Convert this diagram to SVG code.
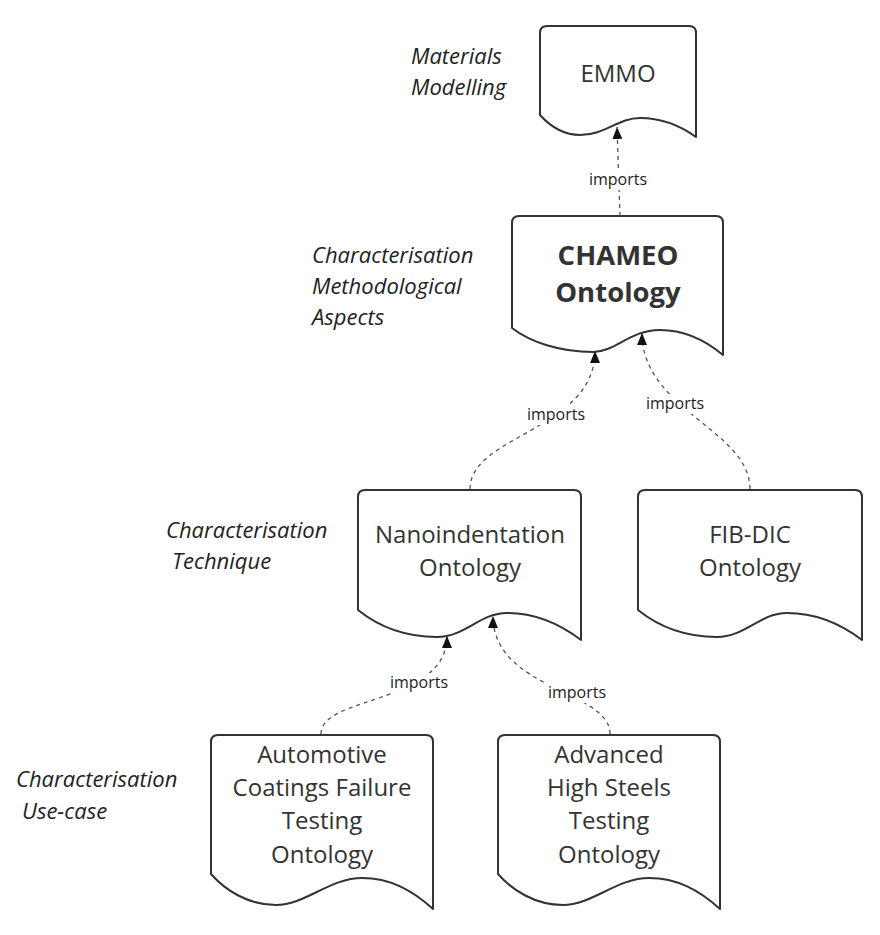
<svg xmlns="http://www.w3.org/2000/svg" width="880" height="935" viewBox="0 0 880 935">
<defs>
<style>
.shape{fill:#fff;stroke:#333;stroke-width:2;stroke-linejoin:round}
.t{font-family:"Open Sans","Noto Sans","Liberation Sans",sans-serif;font-size:24px;fill:#333;text-anchor:middle}
.b{font-weight:bold;font-size:27.5px}
.lab{font-family:"Open Sans","Noto Sans","Liberation Sans",sans-serif;font-size:22px;font-style:italic;fill:#222}
.imp{font-family:"Open Sans","Noto Sans","Liberation Sans",sans-serif;font-size:16px;fill:#222;text-anchor:middle}
.conn{fill:none;stroke:#555;stroke-width:1.3;stroke-dasharray:4 4}
.bg{fill:#fff}
</style>
<marker id="arr" viewBox="0 0 12 10" refX="12" refY="5" markerWidth="12" markerHeight="10" markerUnits="userSpaceOnUse" orient="auto">
<path d="M0,0 L12,5 L0,10 Z" fill="#111"/>
</marker>
</defs>
<rect width="880" height="935" fill="#fff"/>

<g id="labels">
<text class="lab" x="411" y="64">Materials</text>
<text class="lab" x="411" y="95">Modelling</text>
<text class="lab" x="312" y="263">Characterisation</text>
<text class="lab" x="312" y="294">Methodological</text>
<text class="lab" x="312" y="325">Aspects</text>
<text class="lab" x="166" y="538">Characterisation</text>
<text class="lab" x="172" y="569">Technique</text>
<text class="lab" x="16" y="787">Characterisation</text>
<text class="lab" x="22" y="819">Use-case</text>
</g>

<g id="node-emmo">
<path class="shape" d="M540,33 Q540,26 547,26 H689 Q696,26 696,33 V137 C678,124 660,118 640,118 C618,118 605,135 580,135 C562,135 550,126 540,115 Z"/>
<text class="t" x="618" y="82">EMMO</text>
</g>

<g id="node-chameo">
<path class="shape" d="M512,223 Q512,216 519,216 H716 Q723,216 723,223 V355 C705,340 685,330 660,330 C630,330 615,352 593,352 C560,352 530,342 512,328 Z"/>
<text class="t b" x="618" y="265">CHAMEO</text>
<text class="t b" x="618" y="302">Ontology</text>
</g>

<g id="node-nano">
<path class="shape" d="M358,497 Q358,490 365,490 H574 Q581,490 581,497 V640 C560,624 535,613 507,613 C480,613 465,637 437,637 C405,637 378,626 358,610 Z"/>
<text class="t" x="470" y="543">Nanoindentation</text>
<text class="t" x="470" y="576">Ontology</text>
</g>

<g id="node-fibdic">
<path class="shape" d="M638,497 Q638,490 645,490 H855 Q862,490 862,497 V640 C841,624 816,613 787,613 C760,613 745,637 717,637 C685,637 658,626 638,610 Z"/>
<text class="t" x="750" y="543">FIB-DIC</text>
<text class="t" x="750" y="576">Ontology</text>
</g>

<g id="node-automotive">
<path class="shape" d="M211,742 Q211,735 218,735 H426 Q433,735 433,742 V909 C412,890 390,878 362,878 C330,878 305,905 276,905 C248,905 225,890 211,874 Z"/>
<text class="t" x="322" y="763">Automotive</text>
<text class="t" x="322" y="796">Coatings Failure</text>
<text class="t" x="322" y="829">Testing</text>
<text class="t" x="322" y="863">Ontology</text>
</g>

<g id="node-advanced">
<path class="shape" d="M498,742 Q498,735 505,735 H713 Q720,735 720,742 V909 C699,890 677,878 649,878 C617,878 592,905 563,905 C535,905 512,890 498,874 Z"/>
<text class="t" x="609" y="763">Advanced</text>
<text class="t" x="609" y="796">High Steels</text>
<text class="t" x="609" y="829">Testing</text>
<text class="t" x="609" y="863">Ontology</text>
</g>

<g id="connectors">
<path class="conn" d="M620,216 L617,127" marker-end="url(#arr)"/>
<rect class="bg" x="588" y="170" width="60" height="20"/>
<text class="imp" x="618" y="185">imports</text>

<path class="conn" d="M470,489 C470,435 595,430 595,351" marker-end="url(#arr)"/>
<rect class="bg" x="525" y="405" width="62" height="20"/>
<text class="imp" x="556" y="420">imports</text>

<path class="conn" d="M750,489 C750,430 642,410 642,333" marker-end="url(#arr)"/>
<rect class="bg" x="644" y="394" width="62" height="20"/>
<text class="imp" x="675" y="409">imports</text>

<path class="conn" d="M321,734 C321,695 447,705 447,636" marker-end="url(#arr)"/>
<rect class="bg" x="388" y="673" width="62" height="20"/>
<text class="imp" x="419" y="688">imports</text>

<path class="conn" d="M610,734 C610,690 493,690 493,616" marker-end="url(#arr)"/>
<rect class="bg" x="546" y="683" width="62" height="20"/>
<text class="imp" x="577" y="698">imports</text>
</g>
</svg>
